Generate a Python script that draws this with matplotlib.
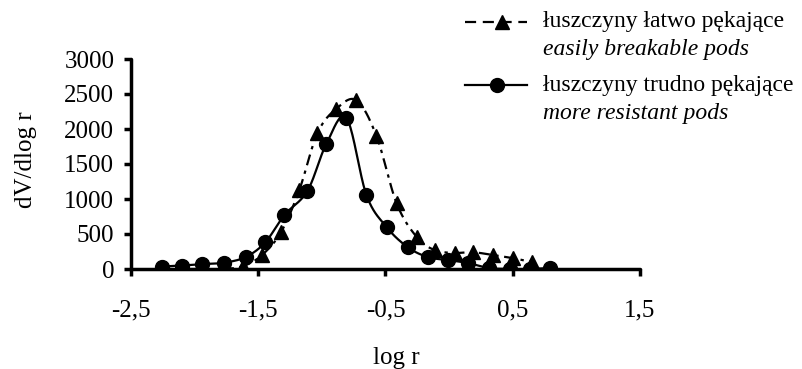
import numpy as np
import matplotlib
matplotlib.use("Agg")
import matplotlib.pyplot as plt
from matplotlib.lines import Line2D

plt.rcParams['font.family'] = ['Liberation Serif', 'DejaVu Serif']

# data
x_easy = [-2.25, -2.10, -1.94, -1.78, -1.62, -1.47, -1.32, -1.177, -1.035, -0.886,
          -0.728, -0.571, -0.413, -0.256, -0.114, 0.043, 0.185, 0.343, 0.50, 0.65]
y_easy = [0, 0, 0, 0, 40, 200, 530, 1130, 1940, 2290,
          2410, 1900, 940, 460, 270, 230, 240, 200, 155, 100]

x_res = [-2.256, -2.098, -1.94, -1.77, -1.60, -1.445, -1.295, -1.114, -0.965, -0.807,
         -0.650, -0.492, -0.327, -0.169, -0.012, 0.146, 0.311, 0.476, 0.634, 0.79]
y_res = [35, 50, 70, 90, 170, 380, 771, 1114, 1786, 2157,
         1057, 600, 314, 171, 129, 86, 14, 0, 0, 14]

xticks = [-2.5, -1.5, -0.5, 0.5, 1.5]
xticklabels = ['-2,5', '-1,5', '-0,5', '0,5', '1,5']
yticks = [0, 500, 1000, 1500, 2000, 2500, 3000]

label_easy = ['łuszczyny łatwo pękające', 'easily breakable pods']
label_res = ['łuszczyny trudno pękające', 'more resistant pods']

FS = 17
TFS = 18


def smooth(xs, ys, n=20):
    xs = np.asarray(xs, float)
    ys = np.asarray(ys, float)
    P = np.column_stack([xs, ys])
    P = np.vstack([P[0], P, P[-1]])
    out = []
    for i in range(1, len(P) - 2):
        p0, p1, p2, p3 = P[i - 1], P[i], P[i + 1], P[i + 2]
        t = np.linspace(0, 1, n, endpoint=False)[:, None]
        seg = 0.5 * ((2 * p1) + (-p0 + p2) * t + (2 * p0 - 5 * p1 + 4 * p2 - p3) * t ** 2
                     + (-p0 + 3 * p1 - 3 * p2 + p3) * t ** 3)
        out.append(seg)
    out.append(P[-2][None, :])
    out = np.vstack(out)
    return out[:, 0], out[:, 1]


W, H = 803, 369
fig = plt.figure(figsize=(W / 100, H / 100), dpi=100)
ax = fig.add_axes([131 / W, 1 - 269 / H, (640 - 131) / W, (269 - 59) / H])

sx, sy = smooth(x_easy, y_easy)
ax.plot(sx, sy, color='black', lw=1.6, dashes=(5, 2.5, 1.5, 2.5), zorder=2)
ax.plot(x_easy, y_easy, linestyle='none', marker='^', ms=10.5, color='black', zorder=3)

sx, sy = smooth(x_res, y_res)
ax.plot(sx, sy, color='black', lw=1.6, zorder=2)
ax.plot(x_res, y_res, linestyle='none', marker='o', ms=10, color='black', zorder=3)

ax.set_xlim(-2.5, 1.5)
ax.set_ylim(0, 3000)
ax.set_xticks(xticks)
ax.set_xticklabels(xticklabels)
ax.set_yticks(yticks)
for s in ['top', 'right']:
    ax.spines[s].set_visible(False)
for s in ['left', 'bottom']:
    ax.spines[s].set_linewidth(2.5)
    ax.spines[s].set_capstyle('round')
ax.tick_params(axis='both', direction='out', width=2.5, length=5, labelsize=TFS, pad=7)
ax.tick_params(axis='x', pad=17)
for lab in ax.get_xticklabels() + ax.get_yticklabels():
    lab.set_color('black')

fig.text(26 / W, 1 - 160 / H, 'dV/dlog r', rotation=90, ha='center', va='center', fontsize=TFS)
fig.text(396 / W, 1 - 358 / H, 'log r', ha='center', va='center', fontsize=TFS)

# legend
def fx(px):
    return px / W

def fy(py):
    return 1 - py / H

fig.add_artist(Line2D([fx(465), fx(527)], [fy(22), fy(22)], color='black', lw=1.6, dashes=(5, 3)))
fig.add_artist(Line2D([fx(502)], [fy(22)], marker='^', ms=10.5, color='black', linestyle='none'))
fig.add_artist(Line2D([fx(465), fx(527)], [fy(85), fy(85)], color='black', lw=1.6))
fig.add_artist(Line2D([fx(497)], [fy(85)], marker='o', ms=10, color='black', linestyle='none'))

fig.text(fx(543), fy(22), label_easy[0], ha='left', va='center', fontsize=FS)
fig.text(fx(543), fy(50), label_easy[1], ha='left', va='center', fontsize=FS, style='italic')
fig.text(fx(543), fy(85), label_res[0], ha='left', va='center', fontsize=FS)
fig.text(fx(543), fy(113), label_res[1], ha='left', va='center', fontsize=FS, style='italic')

fig.savefig('out.png', dpi=100)
